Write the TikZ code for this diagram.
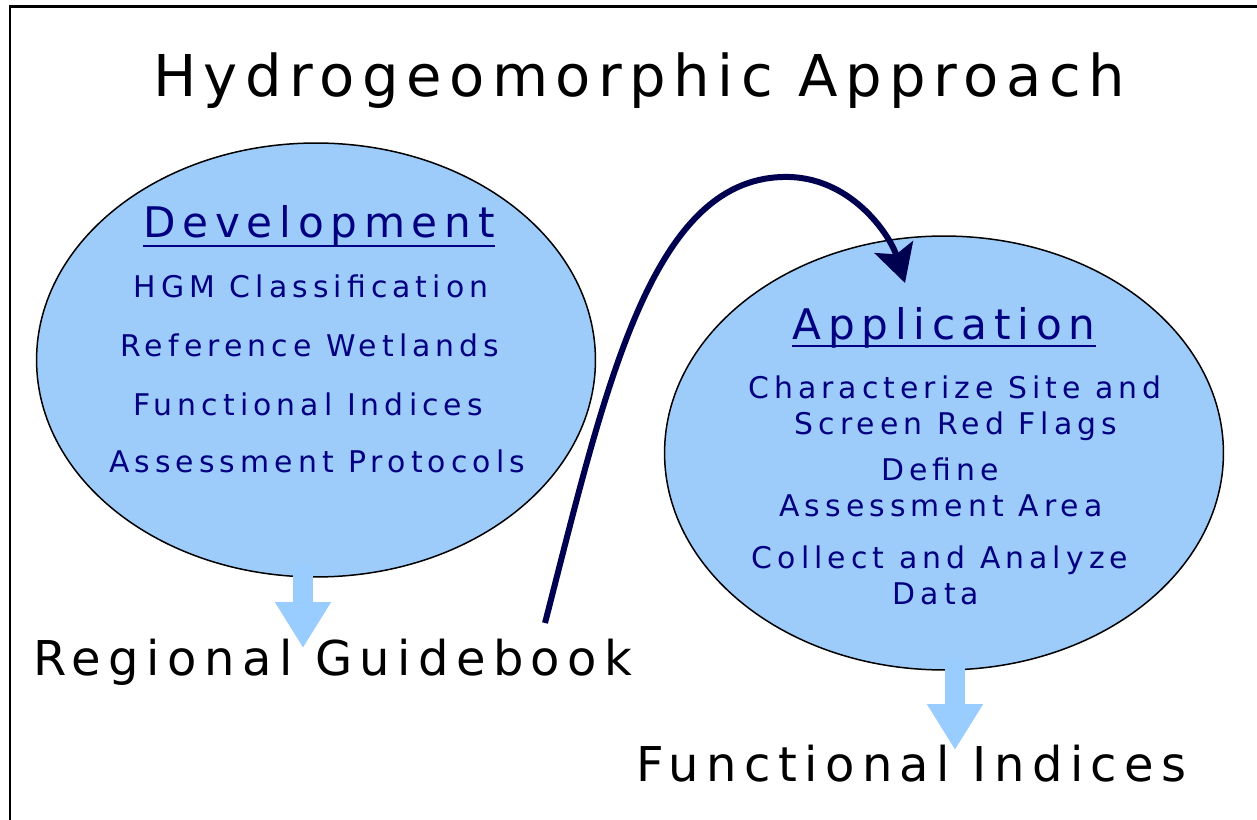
\documentclass[tikz,border=0pt]{standalone}
\usepackage{fontspec}
\usetikzlibrary{shapes.geometric, arrows.meta}

\newfontfamily\titlefont[LetterSpace=13]{DejaVu Sans}
\newfontfamily\headfont[LetterSpace=16]{DejaVu Sans}
\newfontfamily\itemfont[LetterSpace=17]{DejaVu Sans}
\newfontfamily\labelfont[LetterSpace=15.5]{DejaVu Sans}

\definecolor{bubblefill}{RGB}{158,204,250}
\definecolor{flowfill}{RGB}{153,204,255}
\definecolor{inkblue}{RGB}{0,0,128}
\definecolor{loopblue}{RGB}{0,0,80}

\begin{document}
\begin{tikzpicture}[x=0.02cm, y=-0.02cm,
    bubble/.style={ellipse, draw=black, fill=bubblefill, line width=0.03cm, minimum width=11.18cm, minimum height=8.68cm, inner sep=0pt},
    heading/.style={anchor=base, inner sep=0pt, text=inkblue, font=\headfont\fontsize{24pt}{28pt}\selectfont},
    item/.style={anchor=base, inner sep=0pt, text=inkblue, font=\itemfont\fontsize{17pt}{20pt}\selectfont},
    outcome/.style={anchor=base west, inner sep=0pt, font=\labelfont\fontsize{27.3pt}{32pt}\selectfont},
    flow/.style={draw=flowfill, line width=0.4cm, -{Triangle[width=1.06cm, length=0.92cm]}},
    headline/.style={draw=inkblue, line width=0.04cm}]
    \useasboundingbox (0,0) rectangle (1257,820);
    \draw[line width=0.06cm] (10,830) -- (10,7) -- (1270,7);

    \node[anchor=base, inner sep=0pt, font=\titlefont\fontsize{32.8pt}{40pt}\selectfont] (title) at (639, 97) {Hydrogeomorphic Approach};

    \node[bubble] (dev) at (316, 360) {};
    \node[bubble] (app) at (944, 453) {};

    % development side
    \node[heading] (devhead) at (319, 238) {Development};
    \draw[headline] ([yshift=-0.16cm]devhead.base west) -- ([yshift=-0.16cm]devhead.base east);
    \node[item] (hgm) at (311, 298) {HGM Classification};
    \node[item] (refw) at (310, 357) {Reference Wetlands};
    \node[item] (fidx) at (308, 416) {Functional Indices};
    \node[item] (prot) at (317, 473) {Assessment Protocols};

    % application side
    \node[heading] (apphead) at (944, 340) {Application};
    \draw[headline] ([yshift=-0.12cm]apphead.base west) -- ([yshift=-0.12cm]apphead.base east);
    \node[item] (site) at (955, 399) {Characterize Site and};
    \node[item] (flags) at (956, 435) {Screen Red Flags};
    \node[item] (define) at (940, 480) {Define};
    \node[item] (area) at (941, 516) {Assessment Area};
    \node[item] (collect) at (940, 568) {Collect and Analyze};
    \node[item] (data) at (936, 604) {Data};

    \node[outcome] (guide) at (33, 675) {Regional Guidebook};
    \node[outcome] (indices) at (636, 781) {Functional Indices};

    \coordinate (devout) at (303, 565);
    \coordinate (devtip) at (303, 648);
    \coordinate (appout) at (955, 660);
    \coordinate (apptip) at (955, 750);
    \draw[flow] (devout) -- (devtip);
    \draw[flow] (appout) -- (apptip);

    \coordinate (loopstart) at (545, 623);
    \coordinate (looptop) at (783, 177);
    \coordinate (loopend) at (905, 283);
    \draw[loopblue, line width=0.12cm, -{Stealth[width=0.8cm, length=0.75cm, inset=0.15cm]}]
        (loopstart) .. controls (605, 390) and (650, 180) .. (looptop)
        .. controls (850, 175) and (890, 235) .. (loopend);
\end{tikzpicture}
\end{document}
